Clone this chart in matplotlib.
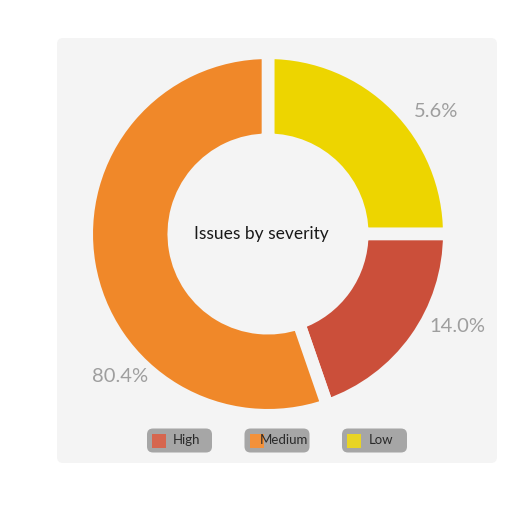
import matplotlib.pyplot as plt
from matplotlib.patches import FancyBboxPatch, Rectangle
import numpy as np

# data
severity = ['Low', 'High', 'Medium']
share_pct = [5.6, 14.0, 80.4]          # printed labels
arc_size = [25.0, 19.7, 55.3]          # arc shares as drawn in the picture
colors = ['#edd500', '#cb4f3a', '#f08829']
label_angle = [36, -26, 224]           # where the % labels sit (deg)
label_dist = [208, 211, 205]

legend_names = ['High', 'Medium', 'Low']
legend_colors = ['#d6664f', '#f3913a', '#e9d424']

plt.rcParams['font.family'] = ['Lato', 'DejaVu Sans']
panel_bg = '#f4f4f4'

fig = plt.figure(figsize=(5.10, 5.23), dpi=100)
ax = fig.add_axes([0, 0, 1, 1])

# 1. PANEL
ax.add_patch(FancyBboxPatch((57, 60), 440, 425,
                            boxstyle='round,pad=0,rounding_size=6',
                            fc=panel_bg, ec='none', zorder=0))

# 2. DONUT (gaps made with a thick background-coloured edge)
cx, cy = 268, 289
r_out = 181.3
ax.pie(arc_size, colors=colors, startangle=90, counterclock=False,
       center=(cx, cy), radius=r_out, frame=True,
       wedgeprops=dict(width=87.1, edgecolor=panel_bg, linewidth=9.1))

for pct, ang, dist in zip(share_pct, label_angle, label_dist):
    a = np.deg2rad(ang)
    ax.text(cx + dist * np.cos(a), cy + dist * np.sin(a), f'{pct:.1f}%',
            ha='center', va='center', fontsize=14.5, color='#9e9e9e')

ax.text(cx - 7, cy, 'Issues by severity', ha='center', va='center',
        fontsize=12.5, color='#1a1a1a')

# 3. LEGEND
for i, (name, col) in enumerate(zip(legend_names, legend_colors)):
    bx = 147 + i * 97.5
    by = 70.5
    ax.add_patch(FancyBboxPatch((bx, by), 65, 24,
                                boxstyle='round,pad=0,rounding_size=6',
                                fc='#a6a6a6', ec='none', zorder=2))
    ax.add_patch(Rectangle((bx + 5.5, by + 5), 14, 14, fc=col, ec='none', zorder=3))
    ax.text(bx + 19.5 + 20, by + 12, name, ha='center', va='center',
            fontsize=9.5, color='#2a2a2a', zorder=4)

ax.set_xlim(0, 510)
ax.set_ylim(0, 523)
ax.set_aspect('equal')
ax.axis('off')

plt.savefig('out.png', dpi=100, facecolor='white')
